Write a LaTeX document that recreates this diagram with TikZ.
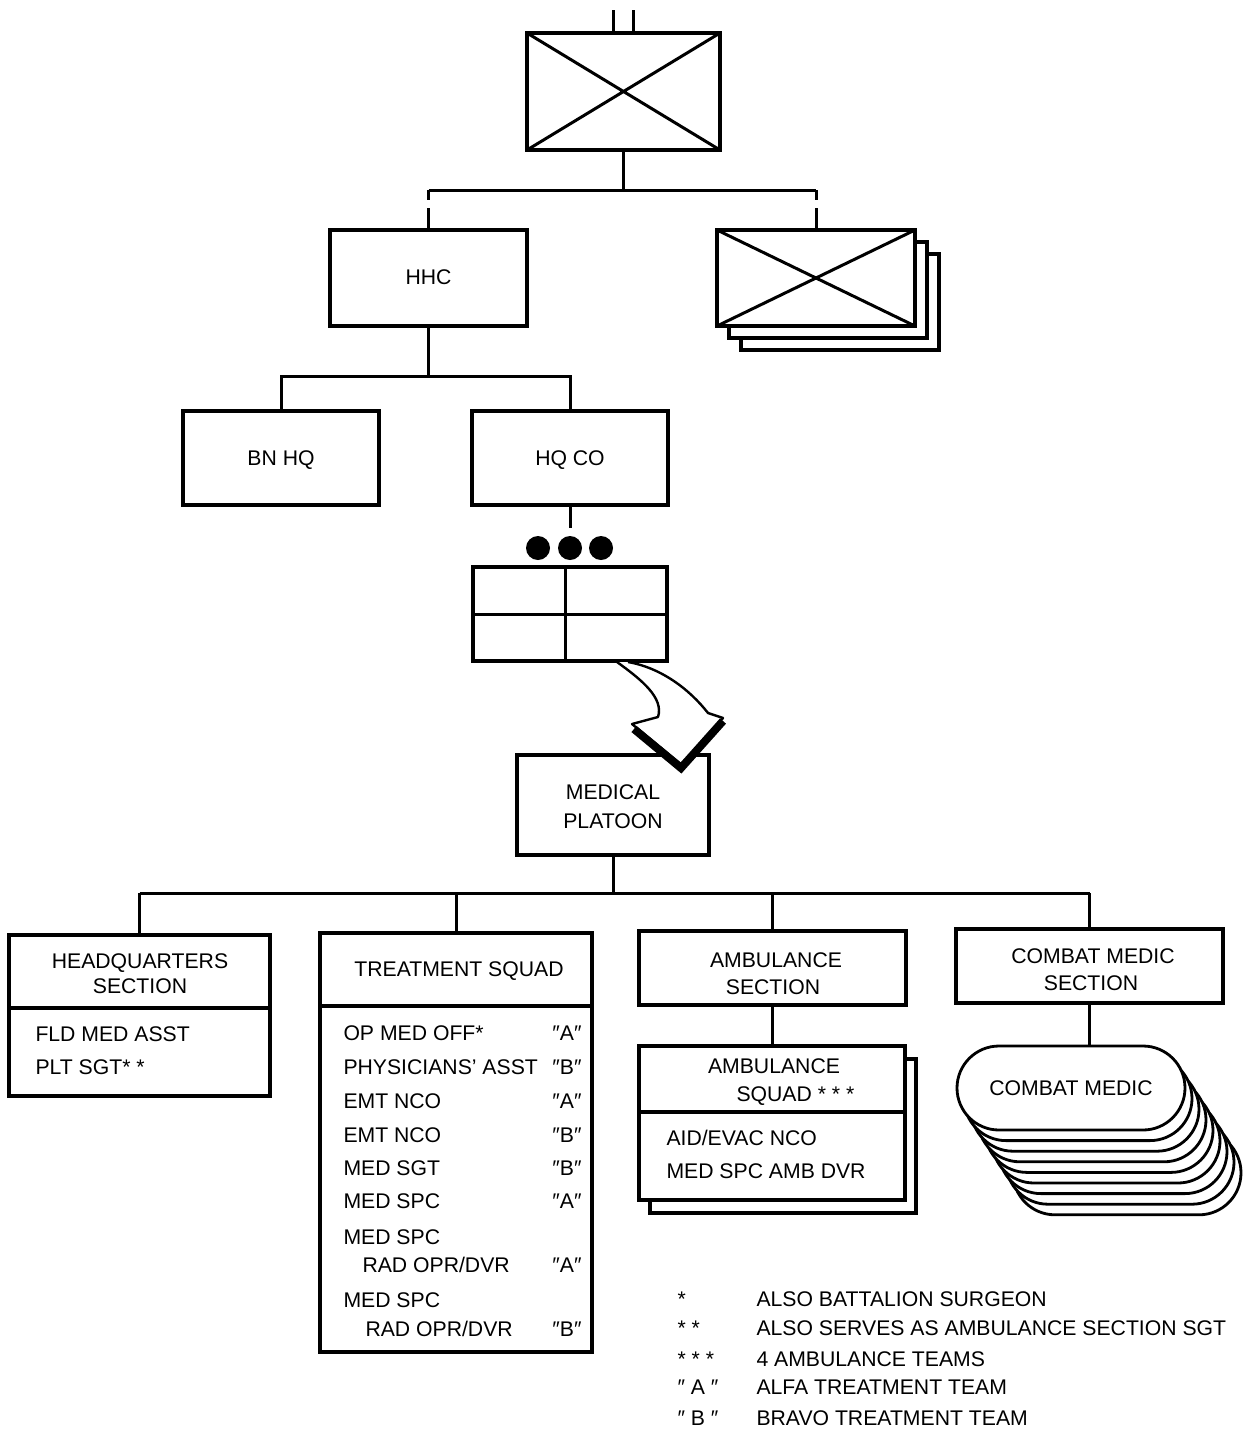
\documentclass[tikz,border=0pt]{standalone}
\usepackage{fontspec}
\setmainfont{Liberation Sans}
\usetikzlibrary{shapes.misc}
\begin{document}
\begin{tikzpicture}[x=0.5pt,y=-0.5pt,line width=1.5pt,
  txt/.style={font=\fontsize{10.6}{12}\selectfont,inner sep=0pt},
  unit/.style={draw,line width=1.6pt,fill=white,inner sep=0pt,outer sep=0pt,anchor=north west},
  stad/.style={draw,line width=1.4pt,fill=white,rounded rectangle,inner sep=0pt,
    minimum width=114pt,minimum height=42pt,font=\fontsize{10.6}{12}\selectfont},
  drop/.style={dash pattern=on 5pt off 4pt on 20pt}]
\useasboundingbox (0,0) rectangle (1244,1430);
% ---- battalion
\node[unit,minimum width=96.5pt,minimum height=58.5pt] (bat) at (527,33) {};
\draw (bat.north west) -- (bat.south east) (bat.south west) -- (bat.north east);
\draw ([xshift=-5pt]bat.north) -- ++(0,-23);
\draw ([xshift=5pt]bat.north) -- ++(0,-23);
\coordinate (busA) at (621,190);
\node[unit,minimum width=98.5pt,minimum height=48pt] (hhc) at (330,230) {};
\node[txt,anchor=base] at (428.5,284) {HHC};
\node[unit,minimum width=99pt,minimum height=48pt] (co3) at (741,254) {};
\node[unit,minimum width=99pt,minimum height=48pt] (co2) at (729,242) {};
\node[unit,minimum width=99pt,minimum height=48pt] (co1) at (717,230) {};
\draw (co1.north west) -- (co1.south east) (co1.south west) -- (co1.north east);
\coordinate (bl) at (hhc.north |- busA);
\coordinate (br) at (co1.north |- busA);
\draw (bat.south) -- (bat.south |- busA);
\draw (bl) -- (br);
\draw[drop] (bl) -- (hhc.north);
\draw[drop] (br) -- (co1.north);
% ---- HHC children
\node[unit,minimum width=98pt,minimum height=47pt] (bnhq) at (183,411) {};
\node[txt,anchor=base] at (bnhq.center |- 0,465) {BN HQ};
\node[unit,minimum width=98pt,minimum height=47pt] (hqco) at (472,411) {};
\node[txt,anchor=base] at (hqco.center |- 0,465) {HQ CO};
\coordinate (busB) at (hhc.south |- 0,376);
\draw (hhc.south) -- (busB);
\draw (bnhq.north) |- (busB) -| (hqco.north);
% ---- platoon symbol
\coordinate (hqend) at (hqco.south |- 0,528);
\draw (hqco.south) -- (hqend);
\foreach \dx in {-32,0,31} \fill (570+\dx,548) circle (6pt);
\node[unit,minimum width=97pt,minimum height=47pt] (plt) at (473,567) {};
\draw ([xshift=-2.5pt]plt.north) -- ([xshift=-2.5pt]plt.south);
\draw (plt.west) -- (plt.east);
% ---- medical platoon
\node[unit,minimum width=96pt,minimum height=50pt] (med) at (517,755) {};
\node[txt,anchor=base] at (613,799) {MEDICAL};
\node[txt,anchor=base] at (613,828) {PLATOON};
% ---- curved arrow
\draw[fill=white,line width=1.2pt,line join=round]
  (617,662) .. controls (642,680) and (664,698) .. (658,717) -- (632,724)
  -- (682,765) -- (723,718) -- (708,713)
  .. controls (690,690) and (662,668) .. (628,662);
\draw[line width=4pt,line join=miter,line cap=butt] (634,729) -- (681,768) -- (723,721);
\coordinate (busC) at (med.south |- 0,893);
\draw (med.south) -- (busC);
% ---- sections
\node[unit,minimum width=130.5pt,minimum height=80.5pt] (hqs) at (9,935) {};
\node[unit,minimum width=136pt,minimum height=209.5pt] (trt) at (320,933) {};
\node[unit,minimum width=133.5pt,minimum height=37pt] (ambs) at (639,931) {};
\node[unit,minimum width=133.5pt,minimum height=37pt] (cms) at (956,929) {};
\draw (hqs.north |- busC) -- (cms.north |- busC);
\draw (hqs.north |- busC) -- (hqs.north);
\draw (trt.north |- busC) -- (trt.north);
\draw (ambs.north |- busC) -- (ambs.north);
\draw (cms.north |- busC) -- (cms.north);
% HQ section
\draw[line width=1.6pt] (hqs.west |- 0,1008) -- (hqs.east |- 0,1008);
\node[txt,anchor=base] at (140,968) {HEADQUARTERS};
\node[txt,anchor=base] at (140,993) {SECTION};
\node[txt,anchor=base west] at (34,1041) {FLD MED ASST};
\node[txt,anchor=base west] at (34,1074) {PLT SGT* *};
% Treatment squad
\draw[line width=1.6pt] (trt.west |- 0,1006) -- (trt.east |- 0,1006);
\node[txt,anchor=base] at (459,976) {TREATMENT SQUAD};
\foreach \y/\t/\tag/\xx in {1040/{OP MED OFF*}/A/342,1074/{PHYSICIANS' ASST}/B/342,1108/{EMT NCO}/A/342,
  1142/{EMT NCO}/B/342,1175/{MED SGT}/B/342,1208/{MED SPC}/A/342,1244/{MED SPC}/{}/342,
  1272/{RAD OPR/DVR}/A/361,1307/{MED SPC}/{}/342,1336/{RAD OPR/DVR}/B/364}{
  \node[txt,anchor=base west] at (\xx,\y) {\t};
  \node[txt,anchor=base east] at (583,\y) {\ifx\tag\empty\else ″\tag″\fi};
}
% Ambulance section
\node[txt,anchor=base] at (776,967) {AMBULANCE};
\node[txt,anchor=base] at (773,994) {SECTION};
\node[unit,minimum width=133pt,minimum height=77pt] (ambq2) at (650,1059) {};
\node[unit,minimum width=133pt,minimum height=77pt] (ambq) at (639,1046) {};
\draw (ambs.south) -- (ambs.south |- ambq.north);
\draw[line width=1.6pt] (ambq.west |- 0,1112) -- (ambq.east |- 0,1112);
\node[txt,anchor=base] at (774,1073) {AMBULANCE};
\node[txt,anchor=base west] at (735,1101) {SQUAD * * *};
\node[txt,anchor=base west] at (665,1145) {AID/EVAC NCO};
\node[txt,anchor=base west] at (665,1178) {MED SPC AMB DVR};
% Combat medic section
\node[txt,anchor=base] at (1093,963) {COMBAT MEDIC};
\node[txt,anchor=base] at (1091,990) {SECTION};
\foreach \i in {8,7,...,1} \node[stad] at (1071+7*\i,1088+10.6*\i) {};
\node[stad] (cm) at (1071,1088) {COMBAT MEDIC};
\draw (cms.south) -- (cms.south |- cm.north);
% ---- legend
\foreach \y/\s/\t in {1306/{*}/{ALSO BATTALION SURGEON},1335/{* *}/{ALSO SERVES AS AMBULANCE SECTION SGT},
  1366/{* * *}/{4 AMBULANCE TEAMS},1394/{″ A ″}/{ALFA TREATMENT TEAM},1425/{″ B ″}/{BRAVO TREATMENT TEAM}}{
  \node[txt,anchor=base west] at (676,\y) {\s};
  \node[txt,anchor=base west] at (755,\y) {\t};
}
\end{tikzpicture}
\end{document}
